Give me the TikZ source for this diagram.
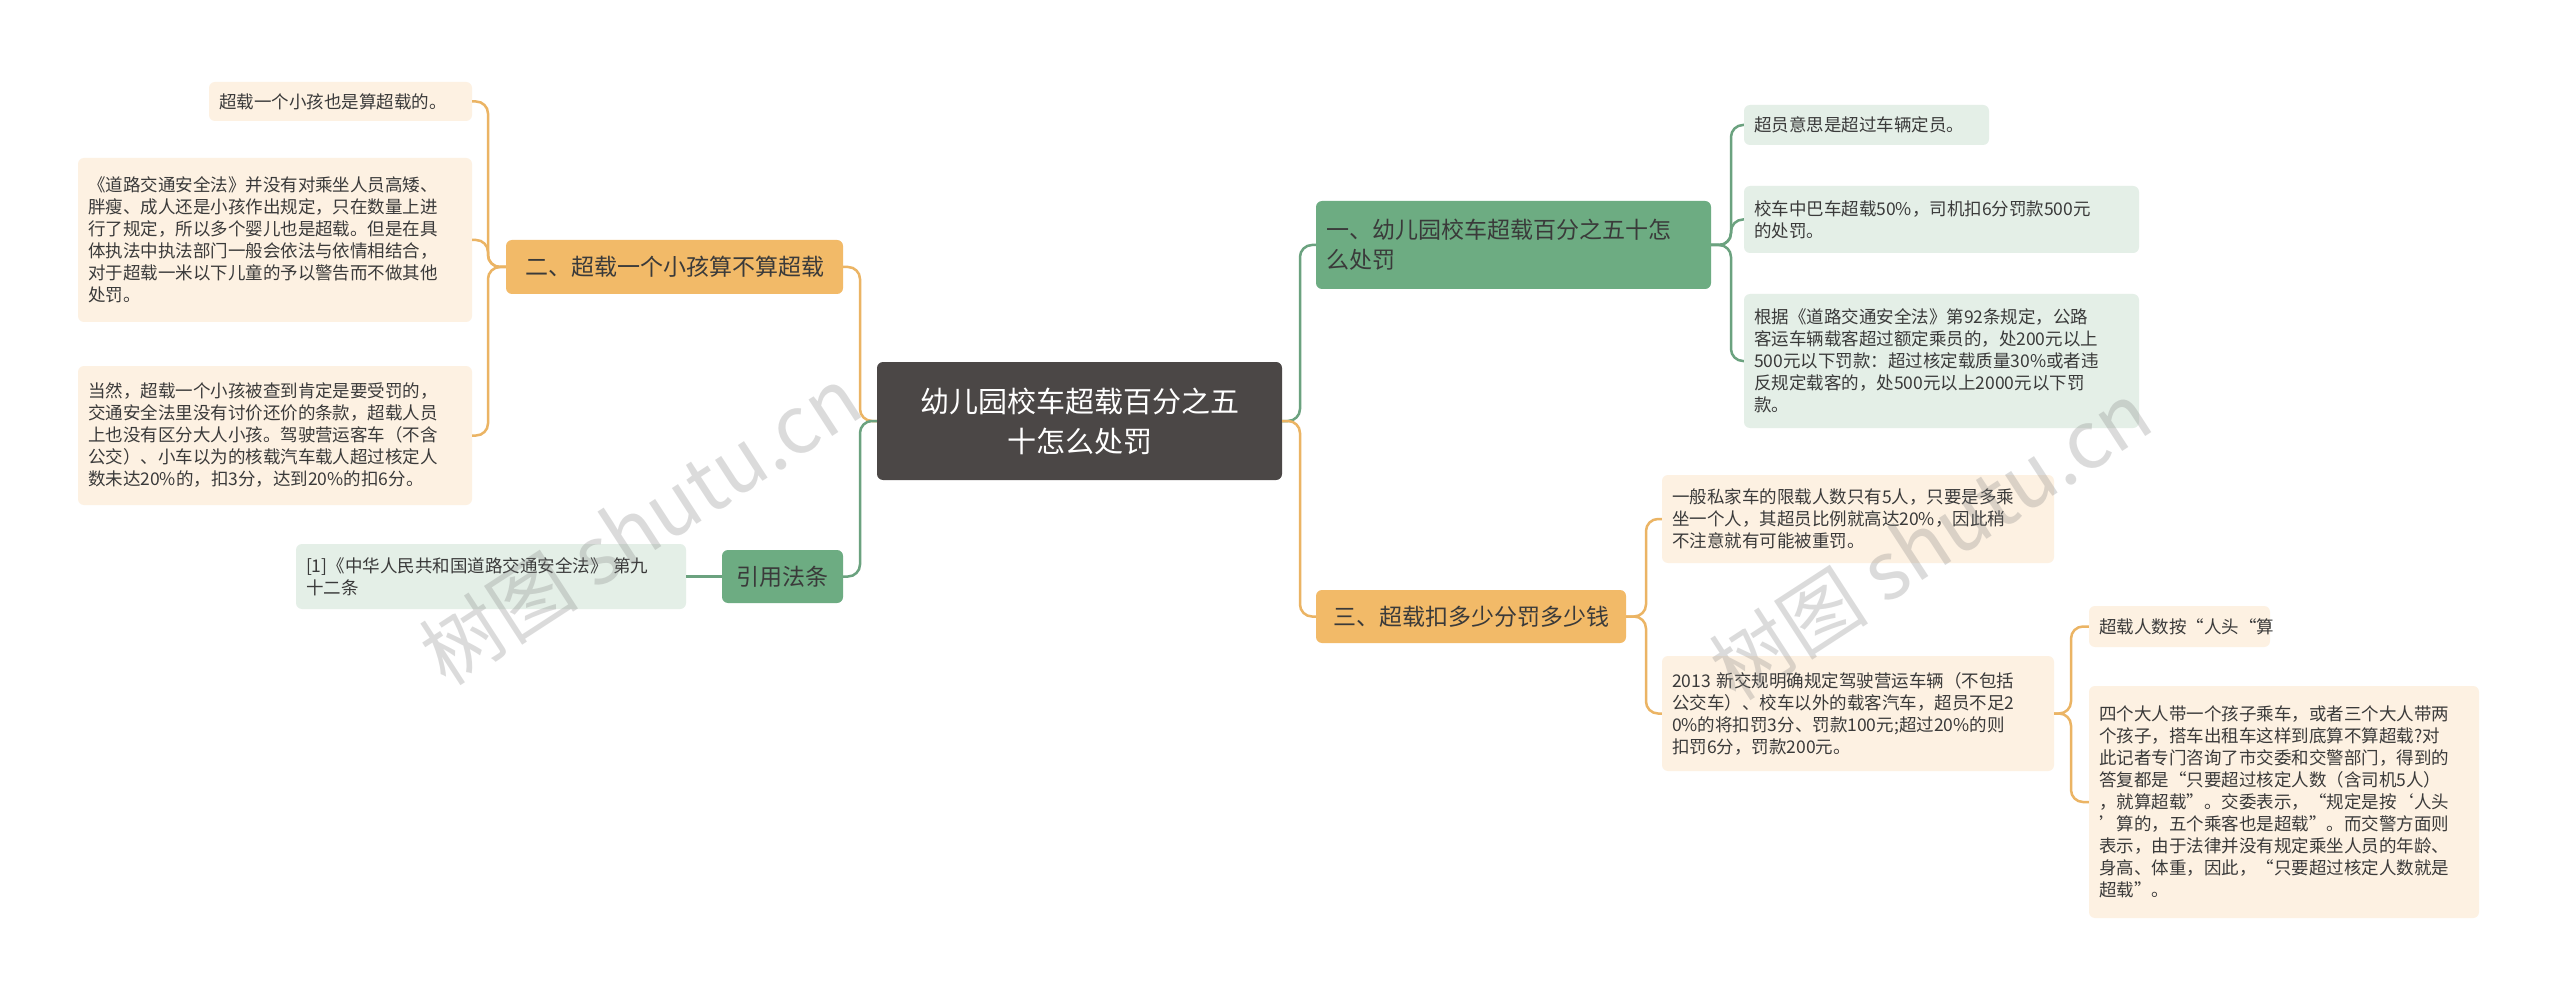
\documentclass[tikz,border=0pt]{standalone}
\usepackage{fontspec}
\setmainfont{Noto Sans CJK SC}
\usetikzlibrary{calc}
\definecolor{cDark}{HTML}{4B4746}
\definecolor{oBr}{HTML}{F2BA68}
\definecolor{oLf}{HTML}{FDF1E2}
\definecolor{oLn}{HTML}{EBB464}
\definecolor{gBr}{HTML}{6DAC82}
\definecolor{gLf}{HTML}{E4EFE7}
\definecolor{gLn}{HTML}{6BA27F}
\definecolor{tx}{HTML}{3A3A3A}
\tikzset{
  box/.style 2 args={rounded corners=6pt, inner xsep=10pt, inner ysep=0pt, minimum width=#1, minimum height=#2, text width=#1-20pt, align=left, text=tx},
  oleaf/.style={fill=oLf, font=\fontsize{17.5}{22}\selectfont},
  gleaf/.style={fill=gLf, font=\fontsize{17.5}{22}\selectfont},
  obr/.style={fill=oBr, font=\fontsize{23}{30}\selectfont},
  gbr/.style={fill=gBr, font=\fontsize{23}{30}\selectfont},
  oconn/.style={draw=oLn, line width=2.5pt, rounded corners=12pt},
  gconn/.style={draw=gLn, line width=2.5pt, rounded corners=12pt},
  wm/.style={text=gray, opacity=0.28, font=\fontsize{80}{80}\selectfont, rotate=33}
}
\begin{document}
\begin{tikzpicture}[x=1pt,y=-1pt]
\fill[white] (0,0) rectangle (2560,1000);
\useasboundingbox (0,0) rectangle (2560,1000);
% central
\node[rounded corners=6pt, fill=cDark, text=white, minimum width=405pt, minimum height=118pt, align=center, font=\fontsize{29}{40}\selectfont] (root) at (1079.5,421) {幼儿园校车超载百分之五\\十怎么处罚};
% left branch
\node[box={337pt}{54pt}, obr, align=center] (b2) at (674.5,267) {二、超载一个小孩算不算超载};
\node[box={121pt}{53pt}, gbr, align=center] (cite) at (782.5,576.5) {引用法条};
\node[box={263pt}{39pt}, oleaf] (l1) at (340.5,101.5) {超载一个小孩也是算超载的。};
\node[box={394pt}{164pt}, oleaf] (l2) at (275,240) {《道路交通安全法》并没有对乘坐人员高矮、\\胖瘦、成人还是小孩作出规定，只在数量上进\\行了规定，所以多个婴儿也是超载。但是在具\\体执法中执法部门一般会依法与依情相结合，\\对于超载一米以下儿童的予以警告而不做其他\\处罚。};
\node[box={394pt}{139pt}, oleaf] (l3) at (275,435.5) {当然，超载一个小孩被查到肯定是要受罚的，\\交通安全法里没有讨价还价的条款，超载人员\\上也没有区分大人小孩。驾驶营运客车（不含\\公交）、小车以为的核载汽车载人超过核定人\\数未达20\%的，扣3分，达到20\%的扣6分。};
\node[box={390pt}{65pt}, gleaf] (c1) at (491,576.5) {[1]《中华人民共和国道路交通安全法》 第九\\十二条};
% right branch
\node[box={395pt}{88pt}, gbr] (b1) at (1513.5,245) {一、幼儿园校车超载百分之五十怎\\么处罚};
\node[box={310pt}{53pt}, obr, align=center] (b3) at (1471,616.5) {三、超载扣多少分罚多少钱};
\node[box={245pt}{40pt}, gleaf] (ga) at (1866.5,125) {超员意思是超过车辆定员。};
\node[box={395pt}{67pt}, gleaf] (gb) at (1941.5,219.5) {校车中巴车超载50\%，司机扣6分罚款500元\\的处罚。};
\node[box={395pt}{134pt}, gleaf] (gc) at (1941.5,361) {根据《道路交通安全法》第92条规定，公路\\客运车辆载客超过额定乘员的，处200元以上\\500元以下罚款：超过核定载质量30\%或者违\\反规定载客的，处500元以上2000元以下罚\\款。};
\node[box={392pt}{88pt}, oleaf] (od) at (1858,519) {一般私家车的限载人数只有5人，只要是多乘\\坐一个人，其超员比例就高达20\%，因此稍\\不注意就有可能被重罚。};
\node[box={392pt}{115pt}, oleaf] (oe) at (1858,713.5) {2013 新交规明确规定驾驶营运车辆（不包括\\公交车）、校车以外的载客汽车，超员不足2\\0\%的将扣罚3分、罚款100元;超过20\%的则\\扣罚6分，罚款200元。};
\node[box={181pt}{41pt}, oleaf] (of) at (2179.5,626.5) {超载人数按“人头“算};
\node[box={390pt}{232pt}, oleaf] (og) at (2284,802) {四个大人带一个孩子乘车，或者三个大人带两\\个孩子，搭车出租车这样到底算不算超载?对\\此记者专门咨询了市交委和交警部门，得到的\\答复都是“只要超过核定人数（含司机5人）\\，就算超载”。交委表示，“规定是按‘人头\\’算的，五个乘客也是超载”。而交警方面则\\表示，由于法律并没有规定乘坐人员的年龄、\\身高、体重，因此，“只要超过核定人数就是\\超载”。};
% spines
\coordinate (sL) at (860,0);
\coordinate (s2) at (488,0);
\coordinate (sC) at (702,0);
\coordinate (sR) at (1300,0);
\coordinate (s1) at (1731,0);
\coordinate (s3) at (1646,0);
\coordinate (se) at (2071,0);
% connectors
\draw[oconn] (root.west) -- (root.west -| sL) |- (b2.east);
\draw[gconn] (root.west) -- (root.west -| sL) |- (cite.east);
\draw[gconn] (root.east) -- (root.east -| sR) |- (b1.west);
\draw[oconn] (root.east) -- (root.east -| sR) |- (b3.west);
\foreach \c in {l1,l2,l3} \draw[oconn] (b2.west) -- (b2.west -| s2) |- (\c.east);
\draw[gconn] (cite.west) -- (c1.east);
\foreach \c in {ga,gb,gc} \draw[gconn] (b1.east) -- (b1.east -| s1) |- (\c.west);
\foreach \c in {od,oe} \draw[oconn] (b3.east) -- (b3.east -| s3) |- (\c.west);
\foreach \c in {of,og} \draw[oconn] (oe.east) -- (oe.east -| se) |- (\c.west);
% watermarks
\node[wm] (w1) at (640,525) {树图 shutu.cn};
\node[wm] (w2) at (1930,540) {树图 shutu.cn};
\end{tikzpicture}
\end{document}
